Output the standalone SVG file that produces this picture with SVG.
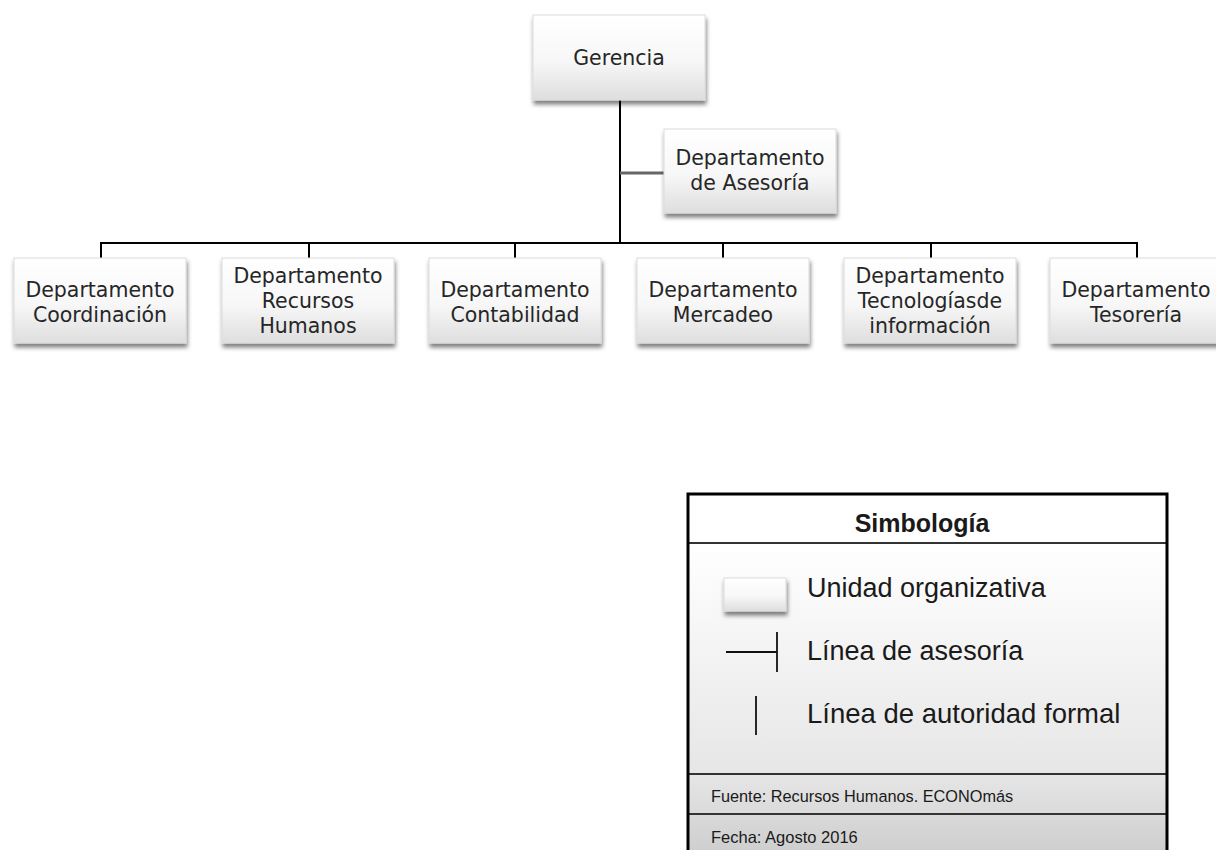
<svg xmlns="http://www.w3.org/2000/svg" width="1216" height="850" viewBox="0 0 1216 850">
  <defs>
    <linearGradient id="boxFill" x1="0" y1="0" x2="0" y2="1">
      <stop offset="0" stop-color="#ffffff"/>
      <stop offset="0.55" stop-color="#f7f7f7"/>
      <stop offset="1" stop-color="#dedede"/>
    </linearGradient>
    <linearGradient id="legendFill" x1="0" y1="0" x2="0" y2="1">
      <stop offset="0" stop-color="#ffffff"/>
      <stop offset="1" stop-color="#e6e6e6"/>
    </linearGradient>
    <linearGradient id="sourceFill" x1="0" y1="0" x2="0" y2="1">
      <stop offset="0" stop-color="#e6e6e6"/>
      <stop offset="1" stop-color="#dadada"/>
    </linearGradient>
    <linearGradient id="dateFill" x1="0" y1="0" x2="0" y2="1">
      <stop offset="0" stop-color="#d9d9d9"/>
      <stop offset="1" stop-color="#cecece"/>
    </linearGradient>
    <filter id="shadow" x="-10%" y="-10%" width="125%" height="135%">
      <feDropShadow dx="1" dy="4" stdDeviation="2.2" flood-color="#000" flood-opacity="0.5"/>
    </filter>
  </defs>
  <style>
    .unit { fill: url(#boxFill); stroke: #dcdcdc; stroke-width: 1; filter: url(#shadow); }
    .label { font-family: "DejaVu Sans", Verdana, sans-serif; font-size: 20.5px; fill: #262626; text-anchor: middle; }
    .line { stroke: #000; stroke-width: 2; fill: none; }
    .staff { stroke: #666; stroke-width: 3; fill: none; }
    .legend-text { font-family: "Liberation Sans", Arial, sans-serif; fill: #1a1a1a; }
  </style>

  <rect width="1216" height="850" fill="#ffffff"/>

  <!-- connectors -->
  <g id="connectors">
    <line class="line" x1="620" y1="100" x2="620" y2="244" stroke-width="2.5"/>
    <line class="staff" x1="620" y1="173" x2="664" y2="173"/>
    <line class="line" x1="100" y1="243" x2="1137" y2="243"/>
    <line class="line" x1="101" y1="243" x2="101" y2="258"/>
    <line class="line" x1="309" y1="243" x2="309" y2="258"/>
    <line class="line" x1="515" y1="243" x2="515" y2="258"/>
    <line class="line" x1="723" y1="243" x2="723" y2="258"/>
    <line class="line" x1="931" y1="243" x2="931" y2="258"/>
    <line class="line" x1="1137" y1="242" x2="1137" y2="258"/>
  </g>

  <!-- nodes -->
  <g id="gerencia">
    <rect class="unit" x="533" y="15" width="172" height="85"/>
    <text class="label" x="619" y="65">Gerencia</text>
  </g>
  <g id="asesoria">
    <rect class="unit" x="664" y="129" width="172" height="84"/>
    <text class="label" x="750" y="165">Departamento</text>
    <text class="label" x="750" y="190">de Asesoría</text>
  </g>
  <g id="coordinacion">
    <rect class="unit" x="14" y="258" width="172" height="85"/>
    <text class="label" x="100" y="297">Departamento</text>
    <text class="label" x="100" y="322">Coordinación</text>
  </g>
  <g id="recursos-humanos">
    <rect class="unit" x="222" y="258" width="172" height="85"/>
    <text class="label" x="308" y="283">Departamento</text>
    <text class="label" x="308" y="308">Recursos</text>
    <text class="label" x="308" y="333">Humanos</text>
  </g>
  <g id="contabilidad">
    <rect class="unit" x="429" y="258" width="172" height="85"/>
    <text class="label" x="515" y="297">Departamento</text>
    <text class="label" x="515" y="322">Contabilidad</text>
  </g>
  <g id="mercadeo">
    <rect class="unit" x="637" y="258" width="172" height="85"/>
    <text class="label" x="723" y="297">Departamento</text>
    <text class="label" x="723" y="322">Mercadeo</text>
  </g>
  <g id="tecnologias">
    <rect class="unit" x="844" y="258" width="172" height="85"/>
    <text class="label" x="930" y="283">Departamento</text>
    <text class="label" x="930" y="308">Tecnologíasde</text>
    <text class="label" x="930" y="333">información</text>
  </g>
  <g id="tesoreria">
    <rect class="unit" x="1050" y="258" width="172" height="85"/>
    <text class="label" x="1136" y="297">Departamento</text>
    <text class="label" x="1136" y="322">Tesorería</text>
  </g>

  <!-- legend -->
  <g id="legend">
    <rect x="688" y="494" width="479" height="49" fill="#ffffff"/>
    <rect x="688" y="543" width="479" height="231" fill="url(#legendFill)"/>
    <rect x="688" y="774" width="479" height="40" fill="url(#sourceFill)"/>
    <rect x="688" y="814" width="479" height="40" fill="url(#dateFill)"/>
    <line x1="688" y1="543" x2="1167" y2="543" stroke="#333" stroke-width="2"/>
    <line x1="688" y1="774" x2="1167" y2="774" stroke="#333" stroke-width="2"/>
    <line x1="688" y1="814" x2="1167" y2="814" stroke="#333" stroke-width="2"/>
    <path d="M688 852 V494 H1167 V852" fill="none" stroke="#000" stroke-width="3"/>

    <text class="legend-text" x="922" y="532" font-size="25" font-weight="bold" text-anchor="middle">Simbología</text>

    <rect class="unit" x="724" y="578" width="62" height="33"/>
    <text class="legend-text" x="807" y="597" font-size="27">Unidad organizativa</text>

    <line x1="726" y1="652" x2="777" y2="652" stroke="#111" stroke-width="1.8"/>
    <line x1="777" y1="632" x2="777" y2="672" stroke="#111" stroke-width="1.8"/>
    <text class="legend-text" x="807" y="660" font-size="27">Línea de asesoría</text>

    <line x1="756" y1="696" x2="756" y2="735" stroke="#111" stroke-width="1.8"/>
    <text class="legend-text" x="807" y="723" font-size="27.5">Línea de autoridad formal</text>

    <text class="legend-text" x="711" y="802" font-size="16.3">Fuente: Recursos Humanos. ECONOmás</text>
    <text class="legend-text" x="711" y="843" font-size="16.5">Fecha: Agosto 2016</text>
  </g>
</svg>
